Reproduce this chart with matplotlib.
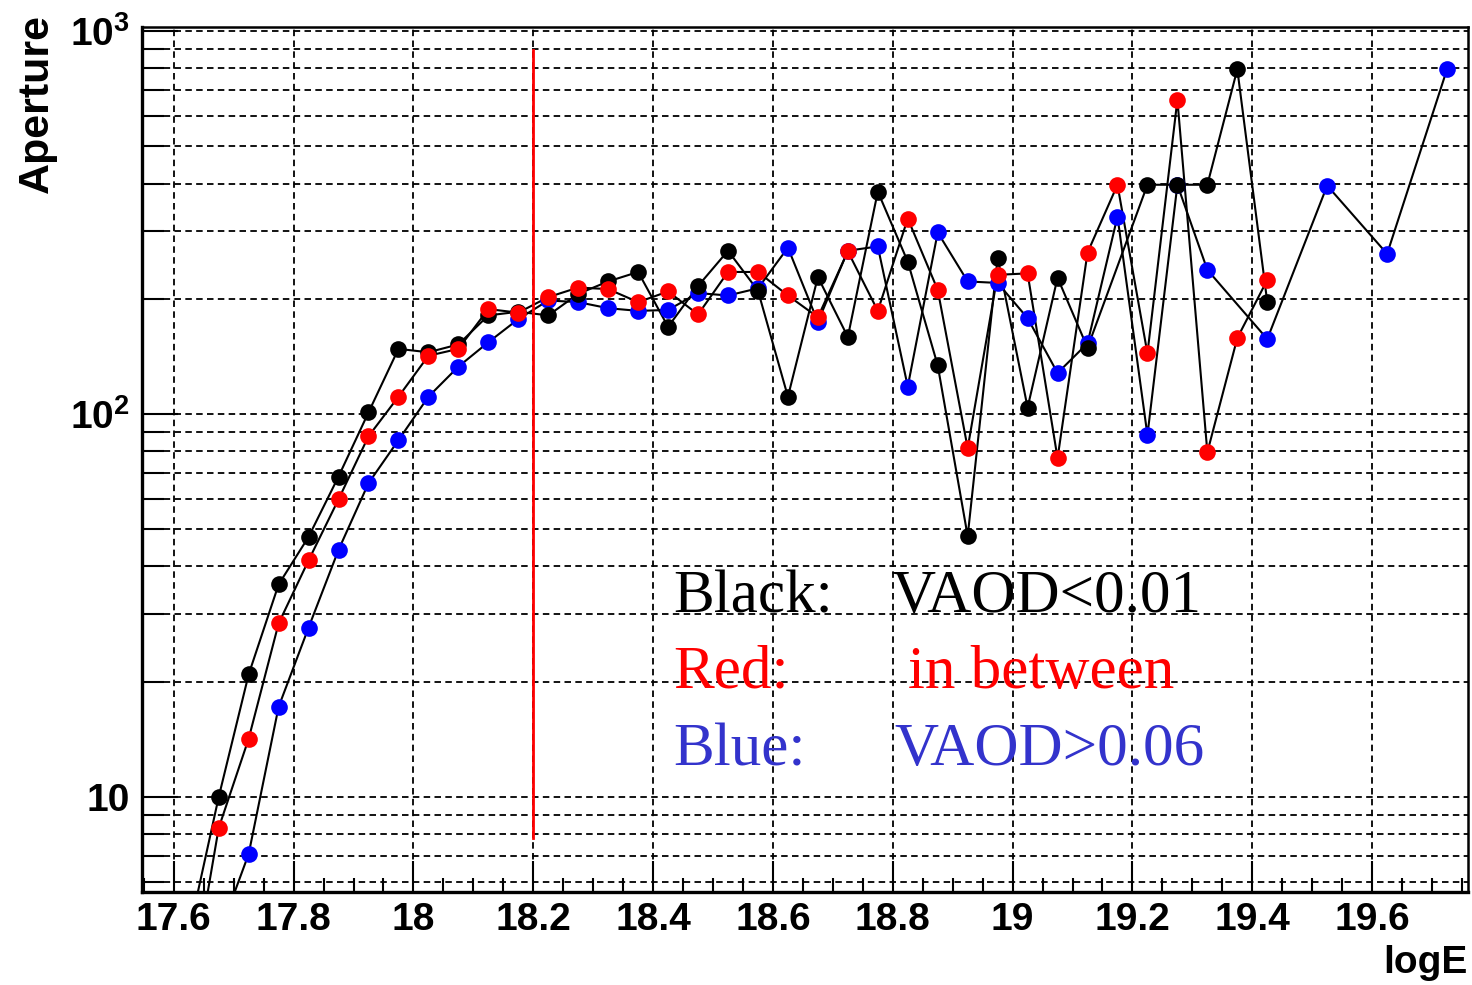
import numpy as np
import matplotlib
matplotlib.use('Agg')
import matplotlib.pyplot as plt
from matplotlib.ticker import FixedLocator, FixedFormatter, MultipleLocator, NullFormatter

plt.rcParams['mathtext.fontset'] = 'custom'
plt.rcParams['mathtext.bf'] = 'Liberation Sans:bold'
plt.rcParams['mathtext.rm'] = 'Liberation Sans:bold'

#   Aperture vs logE, three VAOD classes
black_x = [17.625, 17.675, 17.725, 17.775, 17.825, 17.875, 17.925, 17.975, 18.025, 18.075,
           18.125, 18.175, 18.225, 18.275, 18.325, 18.375, 18.425, 18.475, 18.525, 18.575,
           18.625, 18.675, 18.725, 18.775, 18.825, 18.875, 18.925, 18.975, 19.025, 19.075,
           19.125, 19.225, 19.275, 19.325, 19.375, 19.425]
black_y = [4.4, 10.0, 20.9, 35.9, 47.8, 68.7, 101, 148, 145, 152,
           181, 185, 181, 206, 222, 235, 169, 216, 267, 210,
           111, 228, 159, 381, 250, 134, 48, 256, 104, 227,
           149, 397, 397, 397, 795, 196]

red_x = [17.625, 17.675, 17.725, 17.775, 17.825, 17.875, 17.925, 17.975, 18.025, 18.075,
         18.125, 18.175, 18.225, 18.275, 18.325, 18.375, 18.425, 18.475, 18.525, 18.575,
         18.625, 18.675, 18.725, 18.775, 18.825, 18.875, 18.925, 18.975, 19.025, 19.075,
         19.125, 19.175, 19.225, 19.275, 19.325, 19.375, 19.425]
red_y = [2.9, 8.3, 14.2, 28.4, 41.5, 59.9, 87.5, 111, 142, 148,
         188, 184, 202, 214, 212, 196, 209, 182, 235, 235,
         204, 179, 266, 186, 324, 211, 81.5, 231, 233, 76.7,
         264, 397, 144, 662, 79.5, 158, 224]

blue_x = [17.675, 17.725, 17.775, 17.825, 17.875, 17.925, 17.975, 18.025, 18.075,
          18.125, 18.175, 18.225, 18.275, 18.325, 18.375, 18.425, 18.475, 18.525, 18.575,
          18.625, 18.675, 18.725, 18.775, 18.825, 18.875, 18.925, 18.975, 19.025, 19.075,
          19.125, 19.175, 19.225, 19.275, 19.325, 19.425, 19.525, 19.625, 19.725]
blue_y = [4.35, 7.1, 17.2, 27.7, 44.2, 66.0, 85.5, 111, 133,
          154, 177, 198, 196, 189, 186, 187, 207, 204, 213,
          272, 174, 267, 274, 118, 298, 222, 220, 178, 128,
          153, 328, 88.1, 397, 238, 157, 395, 262, 795]

x_ticks = [17.6, 17.8, 18.0, 18.2, 18.4, 18.6, 18.8, 19.0, 19.2, 19.4, 19.6]
x_labels = ['17.6', '17.8', '18', '18.2', '18.4', '18.6', '18.8', '19', '19.2', '19.4', '19.6']
y_ticks = [10, 100, 1000]
y_labels = ['10', r'$\mathbf{10^{2}}$', r'$\mathbf{10^{3}}$']

cut_x = 18.2
cut_y = [7.8, 890]

fig = plt.figure(figsize=(14.72, 9.85), dpi=100)
ax = fig.add_axes([142 / 1472, 93 / 985, 1326 / 1472, 865 / 985])

#   Lines first, all black, then the markers on top
for xs, ys in [(blue_x, blue_y), (black_x, black_y), (red_x, red_y)]:
    ax.plot(xs, ys, '-', color='black', lw=1.5, zorder=2)
ax.plot(blue_x, blue_y, 'o', color='#0000ff', ms=12, mec='none', zorder=3)
ax.plot(black_x, black_y, 'o', color='black', ms=12, mec='none', zorder=4)
ax.plot(red_x, red_y, 'o', color='#ff0000', ms=12, mec='none', zorder=5)

#   Threshold line
ax.plot([cut_x, cut_x], cut_y, color='#ff0000', lw=2.0, zorder=6)

ax.set_yscale('log')
ax.set_xlim(17.547, 19.760)
ax.set_ylim(5.65, 1025)

ax.xaxis.set_major_locator(FixedLocator(x_ticks))
ax.xaxis.set_major_formatter(FixedFormatter(x_labels))
ax.xaxis.set_minor_locator(MultipleLocator(0.05))
ax.yaxis.set_major_locator(FixedLocator(y_ticks))
ax.yaxis.set_major_formatter(FixedFormatter(y_labels))
minors = [m * d for d in [1, 10, 100] for m in range(2, 10)]
ax.yaxis.set_minor_locator(FixedLocator(minors))
ax.yaxis.set_minor_formatter(NullFormatter())

ax.tick_params(axis='x', which='major', direction='in', length=22, width=1.5, pad=7,
               top=False, labelsize=28)
ax.tick_params(axis='x', which='minor', direction='in', length=10, width=1.5, top=False)
ax.tick_params(axis='y', which='major', direction='in', length=26, width=1.5, pad=9,
               right=False, labelsize=28)
ax.tick_params(axis='y', which='minor', direction='in', length=16, width=1.5, right=False)
for lab in ax.get_xticklabels() + ax.get_yticklabels():
    lab.set_fontfamily('Liberation Sans')
    lab.set_fontweight('bold')

gridstyle = dict(color='black', linestyle=(0, (3.6, 2.4)), linewidth=1.3)
ax.grid(True, which='major', axis='x', **gridstyle)
ax.grid(True, which='both', axis='y', **gridstyle)
ax.set_axisbelow(True)

for side in ['left', 'bottom']:
    ax.spines[side].set_linewidth(2.4)
for side in ['top', 'right']:
    ax.spines[side].set_linewidth(1.8)

#   Axis titles
fig.text(37 / 1472, 1 - 14 / 985, 'Aperture', rotation=90, ha='center', va='top',
         fontsize=31, fontweight='bold', family='Liberation Sans')
fig.text(1468 / 1472, 1 - 963 / 985, 'logE', ha='right', va='center',
         fontsize=28, fontweight='bold', family='Liberation Sans')

#   Legend text
serif = dict(fontsize=44, family='Liberation Serif', va='baseline', ha='left', zorder=7)
ax.text(18.433, 30.4, 'Black:', color='black', **serif)
ax.text(18.798, 30.4, 'VAOD<0.01', color='black', **serif)
ax.text(18.433, 19.3, 'Red:', color='#ff0000', **serif)
ax.text(18.825, 19.3, 'in between', color='#ff0000', **serif)
ax.text(18.433, 12.1, 'Blue:', color='#3333cc', **serif)
ax.text(18.802, 12.1, 'VAOD>0.06', color='#3333cc', **serif)

fig.savefig('out.png', dpi=100)
